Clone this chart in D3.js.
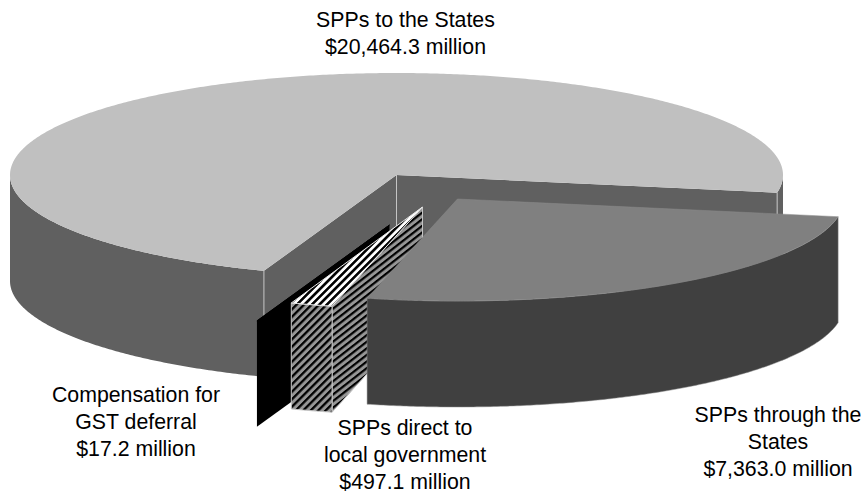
<!DOCTYPE html>
<html><head><meta charset="utf-8">
<script src="https://cdnjs.cloudflare.com/ajax/libs/d3/7.8.5/d3.min.js"></script>
<style>html,body{margin:0;background:#fff}svg{display:block}text{font-family:"Liberation Sans",Arial,sans-serif;font-size:21.3px;fill:#000;text-anchor:middle}</style>
</head><body><script>
const categories = ["SPPs through the States","SPPs direct to local government","Compensation for GST deferral","SPPs to the States"];
const values = [7363.0,497.1,17.2,20464.3];
const labelLines = [["SPPs through the","States","$7,363.0 million"],["SPPs direct to","local government","$497.1 million"],["Compensation for","GST deferral","$17.2 million"],["SPPs to the States","$20,464.3 million"]];
const topColors = ["#808080","url(#hatchTop)","#000000","#c0c0c0"];
const wallColors = ["#404040","url(#hatchFront)","#000000","#606060"];

const W=866,H=494,cx=396.5,cy=175,rx=386.5,ry=102,depth=106,rad=Math.PI/180;
const offsets=[[61,24],[26,32],[-7,50],[0,0]];
const labelAnchors=[[778,422],[405,435],[136,402],[405.5,27]];
const lineGap=27;

const svg=d3.select("body").append("svg").attr("width",W).attr("height",H);
const defs=svg.append("defs");
function hatch(id,bg,angle,size,sw){
  const p=defs.append("pattern").attr("id",id).attr("patternUnits","userSpaceOnUse").attr("width",size).attr("height",size).attr("patternTransform",`rotate(${angle})`);
  p.append("rect").attr("width",size).attr("height",size).attr("fill",bg);
  p.append("rect").attr("width",size).attr("height",sw).attr("fill","#000");
}
hatch("hatchFront","#969696",-45,5.3,2.3);
hatch("hatchSide","#969696",-38,5.2,2.2);
hatch("hatchTop","#ffffff",-45,5.3,2.6);

const arcs=d3.pie().sort(null).startAngle(10*rad).endAngle(370*rad)(values);
const line=d3.line().x(d=>d[0]).y(d=>d[1]);
const pt=(i,t,dz=0)=>[cx+offsets[i][0]+rx*Math.cos(t),cy+offsets[i][1]+ry*Math.sin(t)+dz];
const apex=(i,dz=0)=>[cx+offsets[i][0],cy+offsets[i][1]+dz];
const sample=(i,a,b,dz=0)=>{const n=Math.max(2,Math.ceil(Math.abs(b-a)/(0.5*rad)));return d3.range(n+1).map(k=>pt(i,a+(b-a)*k/n,dz));};
const topPath=(i)=>line([apex(i),...sample(i,arcs[i].startAngle,arcs[i].endAngle)])+"Z";
const outer=(i,a,b)=>line([...sample(i,a,b),...sample(i,b,a,depth)])+"Z";
const wall=(i,t)=>line([apex(i),pt(i,t),pt(i,t,depth),apex(i,depth)])+"Z";
const edge="#c4c4c4";
const g=svg.append("g");
const draw=(d,fill,stroke,sw)=>g.append("path").attr("d",d).attr("fill",fill).attr("stroke",stroke||"none").attr("stroke-width",sw||0).attr("stroke-linejoin","round");

// main slice (index 3)
const M=3,mA=arcs[M];
draw(outer(M,mA.startAngle,Math.PI),wallColors[M]);
draw(outer(M,2*Math.PI,mA.endAngle),wallColors[M]);
draw(wall(M,mA.endAngle),wallColors[M]);
draw(wall(M,mA.startAngle),wallColors[M]);
[mA.startAngle,mA.endAngle].forEach(t=>{const a=pt(M,t),b=pt(M,t,depth);g.append("line").attr("x1",a[0]).attr("y1",a[1]).attr("x2",b[0]).attr("y2",b[1]).attr("stroke",edge).attr("stroke-width",1);});
g.append("line").attr("x1",apex(M)[0]).attr("y1",apex(M)[1]).attr("x2",apex(M,depth)[0]).attr("y2",apex(M,depth)[1]).attr("stroke",edge).attr("stroke-width",1);
draw(topPath(M),topColors[M]);

// compensation slice (index 2)
const C=2;
draw(wall(C,arcs[C].endAngle),"#000");
draw(topPath(C),"#000","#000",1);

// direct slice (index 1)
const D=1,dA=arcs[D];
draw(wall(D,dA.startAngle),"url(#hatchSide)",edge,1);
draw(outer(D,dA.startAngle,dA.endAngle),"url(#hatchFront)",edge,1);
draw(topPath(D),topColors[D],"#e8e8e8",1);

// through slice (index 0)
const T=0,tA=arcs[T];
draw(outer(T,tA.startAngle,tA.endAngle),wallColors[T],"#8a8a8a",0.5);
draw(topPath(T),topColors[T],"#8a8a8a",0.5);

// labels
labelLines.forEach((ls,i)=>{
  const t=svg.append("text").attr("class","label").attr("data-category",categories[i]);
  ls.forEach((s,k)=>t.append("tspan").attr("x",labelAnchors[i][0]).attr("y",labelAnchors[i][1]+k*lineGap).text(s));
});
</script></body></html>
